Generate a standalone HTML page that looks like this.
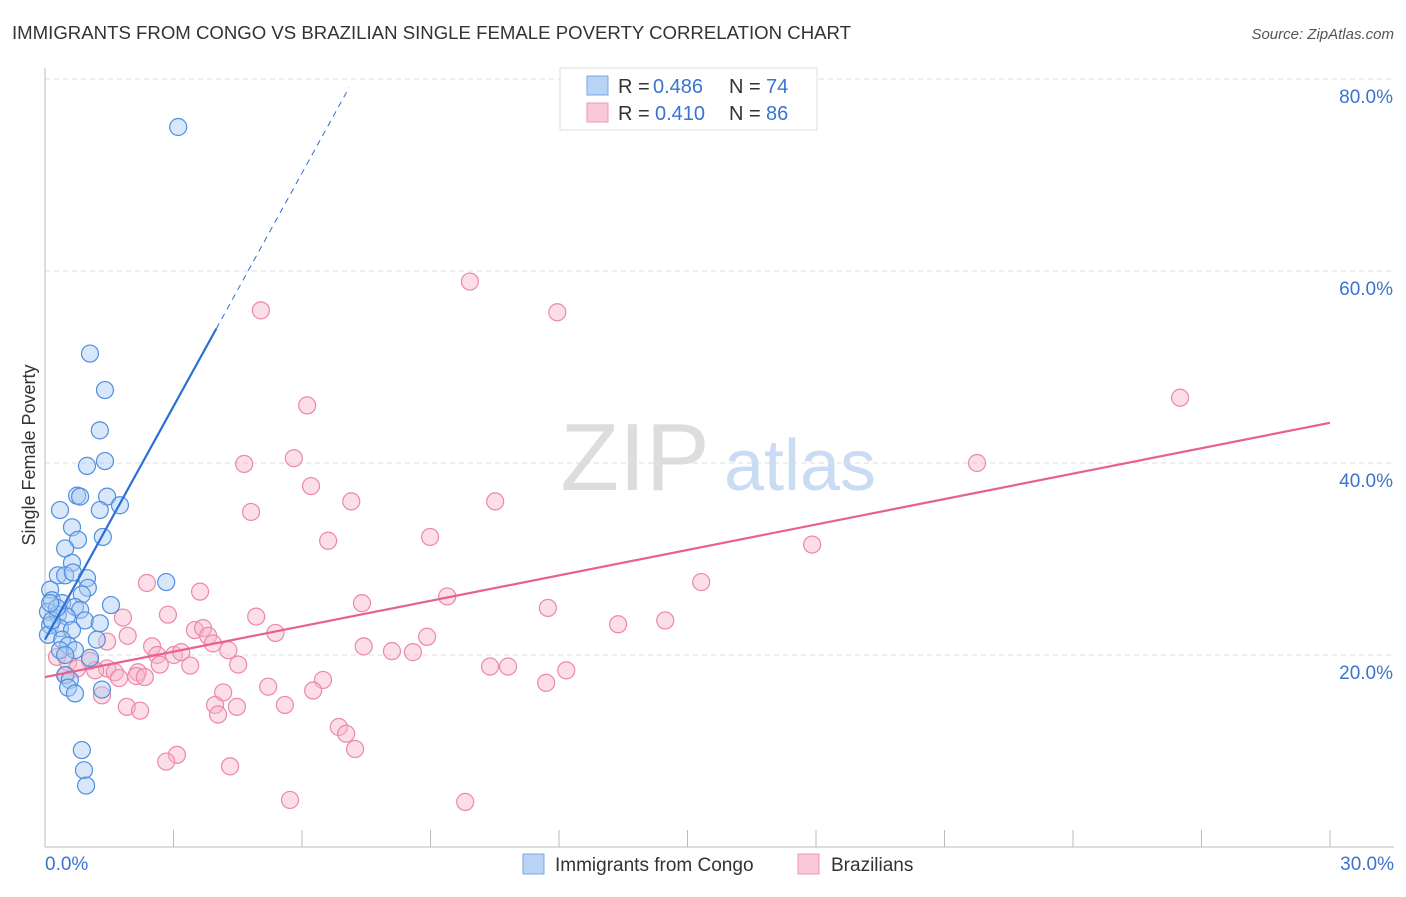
<!DOCTYPE html>
<html><head><meta charset="utf-8"><style>
body{margin:0;background:#fff;font-family:"Liberation Sans",sans-serif;}
svg text{font-family:"Liberation Sans",sans-serif;}
</style></head><body>
<svg id="c" width="1406" height="892" xmlns="http://www.w3.org/2000/svg">
<text x="12" y="39" font-size="18" fill="#333" textLength="839" lengthAdjust="spacingAndGlyphs">IMMIGRANTS FROM CONGO VS BRAZILIAN SINGLE FEMALE POVERTY CORRELATION CHART</text>
<text x="1394" y="39" font-size="15" fill="#555" text-anchor="end" font-style="italic">Source: ZipAtlas.com</text>
<text x="35" y="455" font-size="18" fill="#333" text-anchor="middle" transform="rotate(-90 35 455)">Single Female Poverty</text>
<g><text x="635" y="490" font-size="96" fill="#ddd" text-anchor="middle" font-family="Liberation Serif">ZIP</text><text x="800" y="490" font-size="72" fill="#c9dcf3" text-anchor="middle">atlas</text></g>
<g id="grid"></g><g id="axes"></g><g id="pts"></g><g id="lines"></g>
<g>
<rect x="560" y="68" width="257" height="62" fill="#fff" stroke="#ddd"/>
<rect x="587" y="76" width="21" height="19" fill="#b8d3f5" stroke="#7aa8e8"/>
<rect x="587" y="103" width="21" height="19" fill="#f9c9d8" stroke="#ef97b4"/>
<text x="618" y="93" font-size="20" fill="#333">R =</text>
<text x="653" y="93" font-size="20" fill="#3a74d0">0.486</text>
<text x="729" y="93" font-size="20" fill="#333">N =</text>
<text x="766" y="93" font-size="20" fill="#3a74d0">74</text>
<text x="618" y="120" font-size="20" fill="#333">R =</text>
<text x="655" y="120" font-size="20" fill="#3a74d0">0.410</text>
<text x="729" y="120" font-size="20" fill="#333">N =</text>
<text x="766" y="120" font-size="20" fill="#3a74d0">86</text>
</g>
<g>
<rect x="523" y="854" width="21" height="20" fill="#b8d3f5" stroke="#7aa8e8"/>
<text x="555" y="871" font-size="19" fill="#333">Immigrants from Congo</text>
<rect x="798" y="854" width="21" height="20" fill="#f9c9d8" stroke="#ef97b4"/>
<text x="831" y="871" font-size="19" fill="#333">Brazilians</text>
</g>
</svg>
<script>
const yTicks=[20,40,60,80];
const xTickLabels=["0.0%","30.0%"];
const congoX=[3.11,1.05,1.40,1.28,1.40,0.98,0.75,0.82,1.45,0.35,1.28,1.75,0.63,1.35,0.77,0.47,0.63,0.30,0.47,0.65,0.98,1.00,2.83,0.12,0.86,0.16,0.40,0.70,1.54,0.82,0.07,0.30,0.51,0.93,1.28,0.12,0.35,0.63,0.07,0.40,1.21,0.54,0.35,0.70,0.47,1.05,0.47,0.58,0.54,0.70,1.33,0.86,0.91,0.96,0.16,0.28,0.12];
const congoY=[75.0,51.4,47.6,43.4,40.2,39.7,36.6,36.5,36.5,35.1,35.1,35.6,33.3,32.3,32.0,31.1,29.6,28.3,28.3,28.6,28.0,27.0,27.6,26.8,26.3,25.7,25.4,25.0,25.2,24.7,24.5,24.2,24.0,23.6,23.3,23.1,22.8,22.6,22.1,21.6,21.6,21.0,20.5,20.5,20.0,19.7,17.9,17.4,16.6,16.0,16.4,10.1,8.0,6.4,23.6,24.9,25.4];
const brazX=[9.92,5.04,11.96,26.5,6.12,5.81,4.65,21.76,6.21,7.15,10.51,4.81,6.61,8.99,17.91,2.38,15.32,3.62,9.39,7.40,11.74,2.87,4.93,1.82,14.48,13.38,3.50,3.69,5.38,3.81,1.93,8.92,1.45,3.92,2.50,7.44,4.28,8.10,8.59,2.62,3.01,3.18,0.28,0.54,1.05,2.68,4.51,3.39,0.75,1.45,1.63,2.17,10.39,10.81,12.17,1.17,1.73,2.13,2.33,6.49,0.49,11.70,5.21,6.26,4.16,1.33,3.97,5.60,4.48,1.91,2.22,4.04,6.86,7.03,7.24,3.08,2.83,4.32,5.72,9.81];
const brazY=[58.9,55.9,55.7,46.8,46.0,40.5,39.9,40.0,37.6,36.0,36.0,34.9,31.9,32.3,31.5,27.5,27.6,26.6,26.1,25.4,24.9,24.2,24.0,23.9,23.6,23.2,22.6,22.8,22.3,22.0,22.0,21.9,21.4,21.2,20.9,20.9,20.5,20.4,20.3,20.0,20.0,20.3,19.8,19.2,19.4,19.0,19.0,18.9,18.6,18.6,18.2,18.2,18.8,18.8,18.4,18.4,17.6,17.8,17.7,17.4,17.9,17.1,16.7,16.3,16.1,15.8,14.8,14.8,14.6,14.6,14.2,13.8,12.5,11.8,10.2,9.6,8.9,8.4,4.9,4.7];
const congoTrend=[21.6,8.1]; // intercept, slope
const brazTrend=[17.7,0.883];
const NS="http://www.w3.org/2000/svg";
const X=v=>45+v/30*1285, Y=v=>847-v/80*768;
function mk(p,t,a){const e=document.createElementNS(NS,t);for(const k in a)e.setAttribute(k,a[k]);document.getElementById(p).appendChild(e);return e;}
yTicks.forEach(t=>{
 const l=mk('grid','line',{x1:45,x2:1394,y1:Y(t),y2:Y(t),stroke:'#ddd','stroke-dasharray':'5,4'});
 
 
 const tx=mk('grid','text',{x:1393,y:Y(t)+24,'font-size':19,fill:'#3a74d0','text-anchor':'end'});tx.textContent=t.toFixed(1)+'%';
 
 
});
mk('axes','line',{x1:45,x2:45,y1:68,y2:847,stroke:'#bbb'});
mk('axes','line',{x1:45,x2:1394,y1:847,y2:847,stroke:'#bbb'});
for(let i=0;i<=10;i++){const t=mk('axes','line',{x1:X(i*3),x2:X(i*3),y1:830,y2:847,stroke:'#bbb'});}
[[0,'start',45],[30,'end',1394]].forEach((d,i)=>{const t=mk('axes','text',{x:d[2],y:870,'font-size':19,fill:'#3a74d0','text-anchor':d[1]});t.textContent=xTickLabels[i];
 
 });
function pts(xs,ys,f,s,n){xs.forEach((x,i)=>{const c=mk('pts','circle',{cx:X(x),cy:Y(ys[i]),r:8.5,fill:f,'fill-opacity':0.45,stroke:s,'stroke-width':1.2});
 
 });}
pts(brazX,brazY,'#f7b6ca','#ec88a8','brazilians-point');
pts(congoX,congoY,'#a9c9f2','#4f8ee0','congo-point');
let l=mk('lines','line',{x1:X(0),y1:Y(congoTrend[0]),x2:X(4.0),y2:Y(congoTrend[0]+congoTrend[1]*4.0),stroke:'#2a6fd6','stroke-width':2.2});


l=mk('lines','line',{x1:X(4.0),y1:Y(congoTrend[0]+congoTrend[1]*4.0),x2:X(7.1),y2:Y(congoTrend[0]+congoTrend[1]*7.1),stroke:'#2a6fd6','stroke-width':1,'stroke-dasharray':'6,5'});


l=mk('lines','line',{x1:X(0),y1:Y(brazTrend[0]),x2:X(30),y2:Y(brazTrend[0]+brazTrend[1]*30),stroke:'#e8608c','stroke-width':2.2});


</script>
</body></html>
